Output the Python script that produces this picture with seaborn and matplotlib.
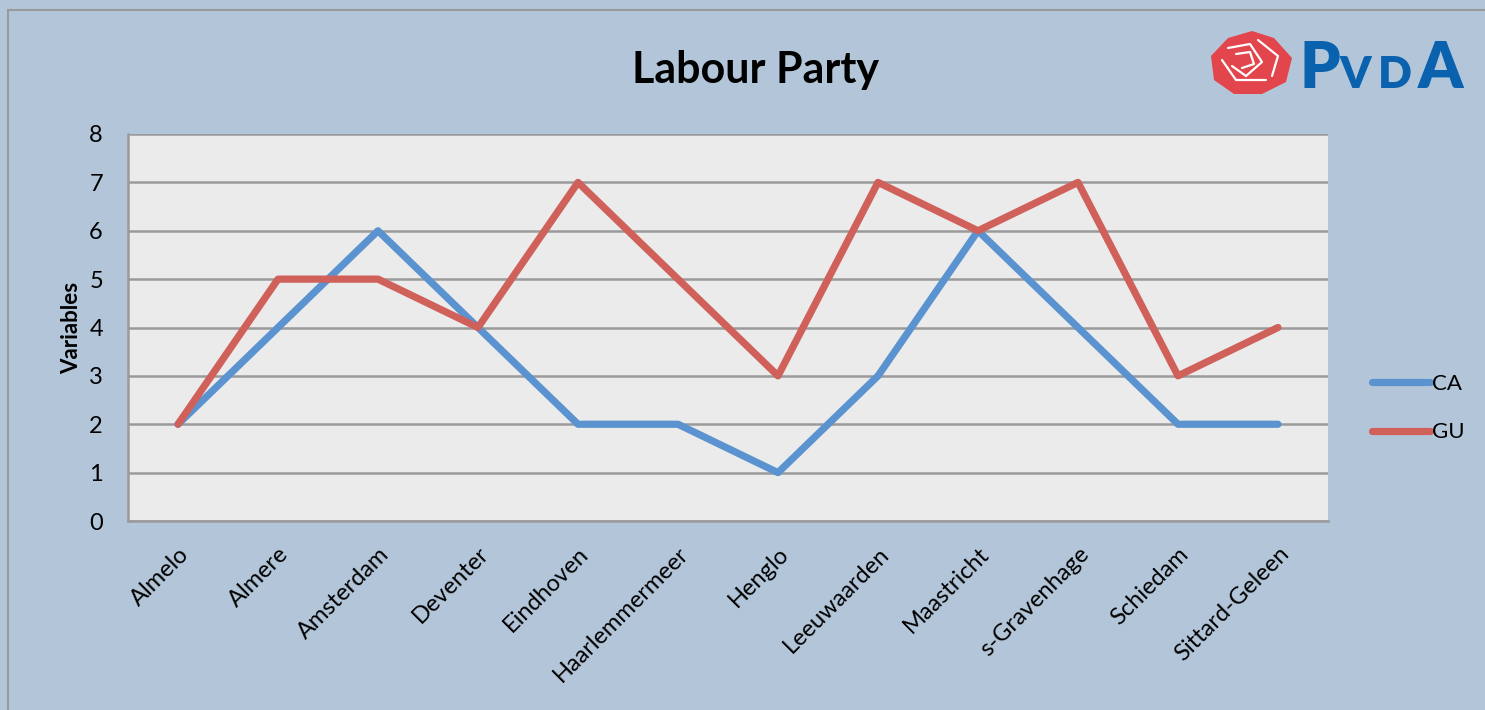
import matplotlib
matplotlib.use("Agg")
import matplotlib.pyplot as plt
import seaborn as sns
import pandas as pd
from matplotlib.patches import Polygon, Rectangle
from matplotlib.lines import Line2D

cities = ["Almelo", "Almere", "Amsterdam", "Deventer", "Eindhoven", "Haarlemmermeer",
          "Henglo", "Leeuwaarden", "Maastricht", "s-Gravenhage", "Schiedam", "Sittard-Geleen"]
ca = [2, 4, 6, 4, 2, 2, 1, 3, 6, 4, 2, 2]
gu = [2, 5, 5, 4, 7, 5, 3, 7, 6, 7, 3, 4]
yticks = [0, 1, 2, 3, 4, 5, 6, 7, 8]

df = pd.DataFrame({
    "city": cities * 2,
    "x": list(range(len(cities))) * 2,
    "value": ca + gu,
    "series": ["CA"] * len(ca) + ["GU"] * len(gu),
})

sns.set_theme(style="white")
FONT = ['Lato', 'DejaVu Sans']
plt.rcParams['font.family'] = FONT
plt.rcParams['text.color'] = 'black'
plt.rcParams['xtick.color'] = 'black'
plt.rcParams['ytick.color'] = 'black'
plt.rcParams['axes.labelcolor'] = 'black'

BG = "#B3C6D9"
fig = plt.figure(figsize=(14.85, 7.10), dpi=100, facecolor=BG)
ax = fig.add_axes([128/1485, 1-521/710, 1200/1485, (521-134)/710])
ax.set_facecolor("#EBEBEB")

palette = {"CA": "#5A93CF", "GU": "#D0605A"}
sns.lineplot(data=df, x="x", y="value", hue="series", palette=palette, ax=ax,
             linewidth=5.2, legend=False, solid_capstyle="round", solid_joinstyle="round",
             sort=False)

ax.set_xlim(-0.5, len(cities) - 0.5)
ax.set_ylim(0, 8)
ax.set_yticks(yticks)
ax.set_yticklabels([str(v) for v in yticks], fontsize=17)
ax.set_xticks(range(len(cities)))
ax.set_xticklabels(cities, rotation=45, ha="right", rotation_mode="anchor", fontsize=17)
ax.tick_params(axis="y", length=0, pad=18)
ax.tick_params(axis="x", length=0, pad=16)
ax.yaxis.grid(True, color="#9A9A9A", linewidth=1.8)
ax.set_axisbelow(True)
for s in ["top", "right"]:
    ax.spines[s].set_visible(False)
for s in ["left", "bottom"]:
    ax.spines[s].set_color("#9A9A9A")
    ax.spines[s].set_linewidth(1.8)
ax.set_xlabel("")
ax.set_ylabel("Variables", fontsize=16, fontweight="bold", labelpad=5)

fig.text(755/1485, 1-70/710, "Labour Party", fontsize=31, fontweight="bold",
         ha="center", va="center", family=FONT)

# legend
handles = [Line2D([], [], color=palette["CA"], linewidth=5.2, solid_capstyle="round"),
           Line2D([], [], color=palette["GU"], linewidth=5.2, solid_capstyle="round")]
leg = fig.legend(handles, ["CA", "GU"], loc="center left",
                 bbox_to_anchor=(1352/1485, 1-408/710), frameon=False, fontsize=16,
                 handlelength=2.6, handletextpad=0.1, labelspacing=1.3)

# figure border
fig.patches.append(Rectangle((8/1485, -0.01), 1.02, 1-10/710 + 0.01, transform=fig.transFigure,
                             fill=False, edgecolor="#9A9A9A", linewidth=1.5))

# logo: rose
W, H = 1485, 710
def fp(pts):
    return [(x / W, 1 - y / H) for x, y in pts]
rose = fp([(1228, 38), (1252, 31), (1274, 38), (1292, 58), (1286, 82), (1262, 94),
           (1234, 94), (1214, 80), (1211, 56)])
fig.patches.append(Polygon(rose, closed=True, transform=fig.transFigure,
                           facecolor="#E2454C", edgecolor="none"))
for seg in [[(1228, 48), (1250, 44), (1262, 62), (1246, 76), (1232, 66)],
            [(1222, 60), (1236, 80), (1266, 80)],
            [(1258, 40), (1278, 56), (1272, 76)],
            [(1236, 54), (1250, 52), (1254, 64), (1242, 68)]]:
    xs, ys = zip(*fp(seg))
    fig.lines.append(Line2D(xs, ys, transform=fig.transFigure, color="white", linewidth=1.6))

BLUE = "#0A62AE"
fig.text(1300/W, 1 - 88/H, "P", fontsize=46, fontweight="heavy", color=BLUE,
         ha="left", va="baseline", family=FONT)
fig.text(1340/W, 1 - 88/H, "V", fontsize=32, fontweight="heavy", color=BLUE,
         ha="left", va="baseline", family=FONT)
fig.text(1378/W, 1 - 88/H, "D", fontsize=32, fontweight="heavy", color=BLUE,
         ha="left", va="baseline", family=FONT)
fig.text(1418/W, 1 - 88/H, "A", fontsize=46, fontweight="heavy", color=BLUE,
         ha="left", va="baseline", family=FONT)

fig.savefig("out.png", dpi=100, facecolor=BG)
